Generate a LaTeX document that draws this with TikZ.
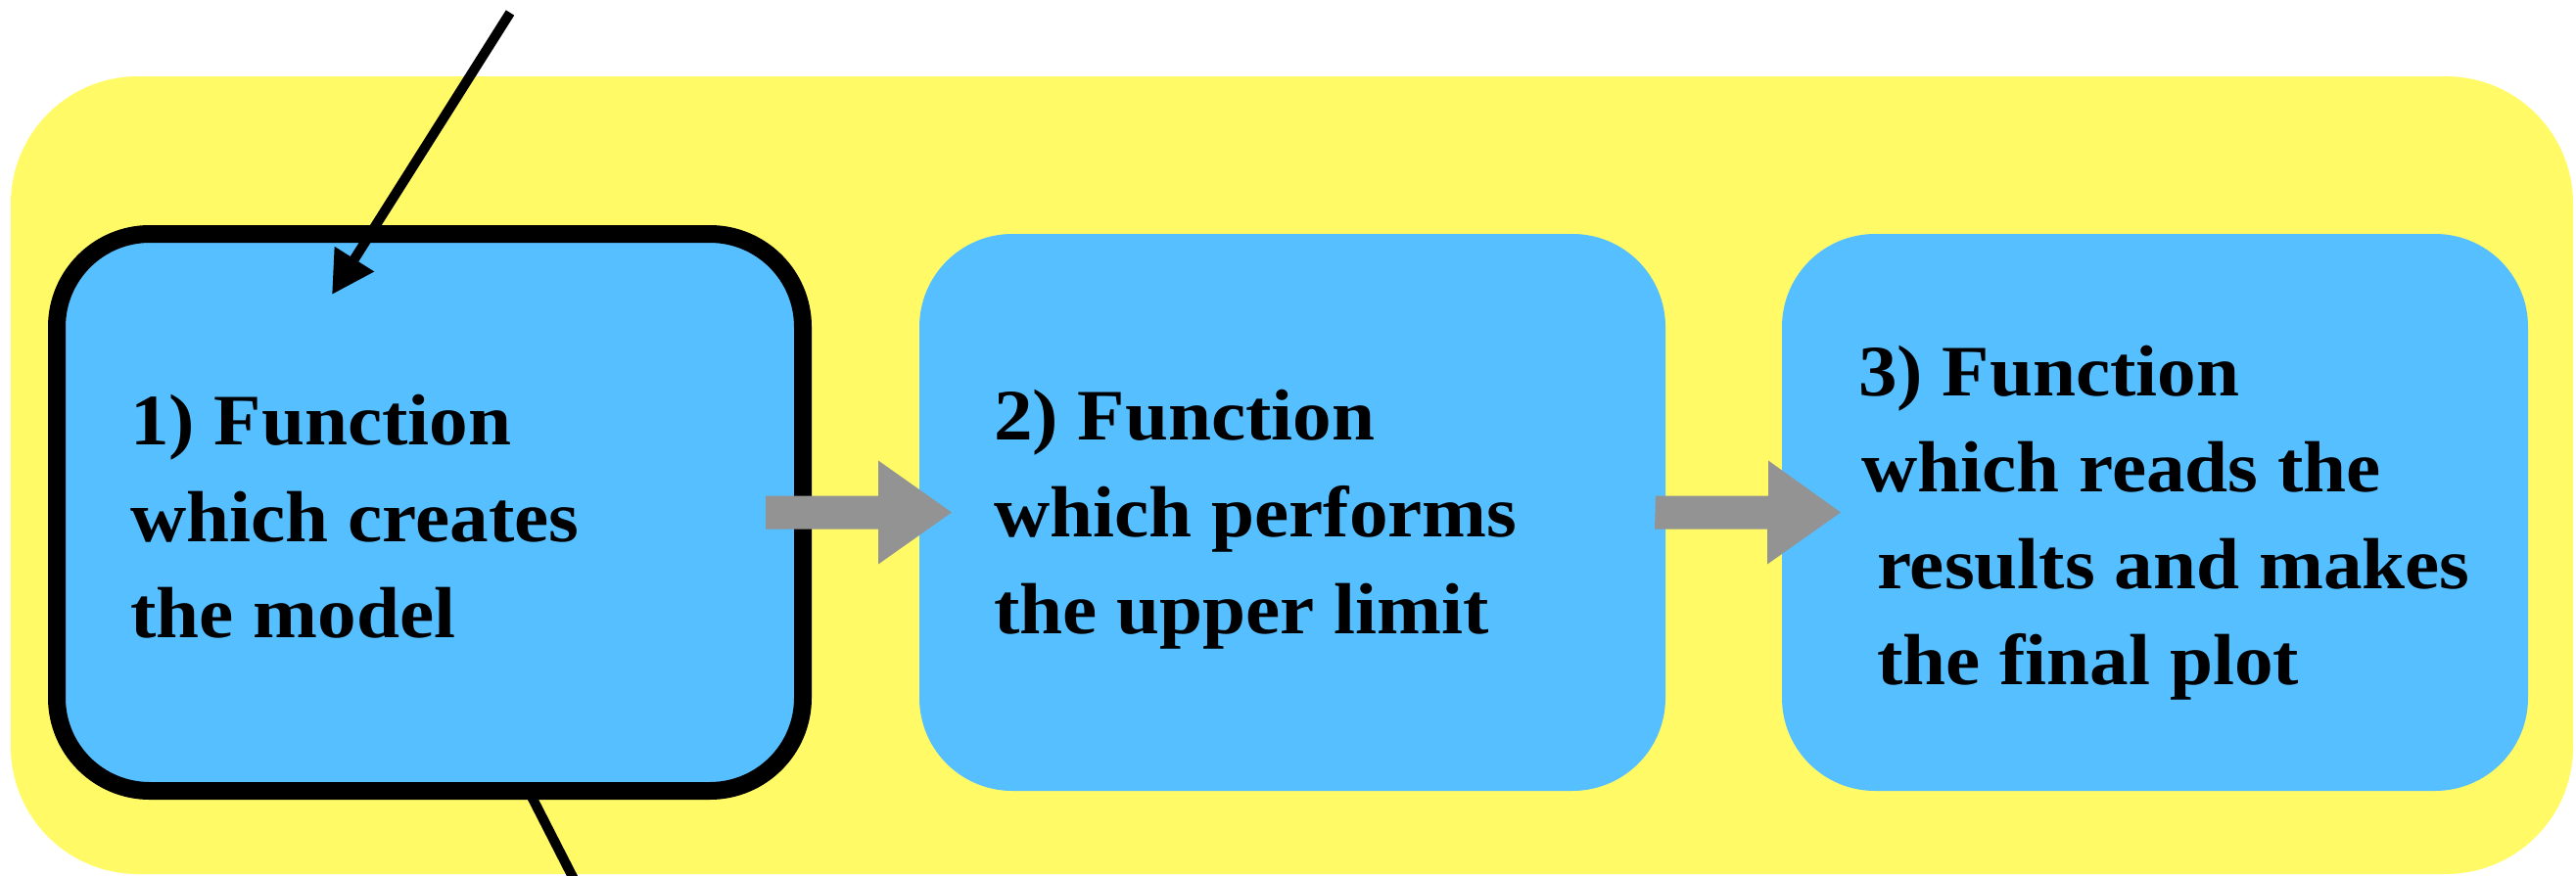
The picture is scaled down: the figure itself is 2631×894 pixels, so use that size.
\documentclass[tikz,border=0pt]{standalone}
\usepackage{fontspec}
\setmainfont{Liberation Serif}[FakeStretch=1.07]
\usetikzlibrary{calc,arrows.meta}
\definecolor{bgyellow}{RGB}{255,250,102}
\definecolor{boxblue}{RGB}{85,191,255}
\definecolor{arrgray}{RGB}{147,147,147}
\begin{document}
\begin{tikzpicture}[x=1pt,y=-1pt,
  panel/.style={rectangle, fill=bgyellow, rounded corners=130pt, inner sep=0pt, outer sep=0pt},
  fnbox/.style={rectangle, fill=boxblue, rounded corners=95pt, minimum width=762pt, minimum height=569pt, inner sep=0pt, outer sep=0pt},
  boldbox/.style={fnbox, draw=black, line width=18pt},
  fnline/.style={anchor=base west, inner sep=0pt, font=\fontsize{74}{86}\selectfont\bfseries},
  blockarrow/.style={fill=arrgray},
  link/.style={line width=10pt, draw=black}
]
\useasboundingbox (0,0) rectangle (2631,894);
\node[panel, minimum width=2617pt, minimum height=815pt] (bg) at (1319.5,485.5) {};

\node[boldbox] (f1) at (439,523.5) {};
\node[fnbox] (f2) at (1320,523.5) {};
\node[fnbox] (f3) at (2201,523.5) {};

% line leaving box 1 downwards
\coordinate (outEnd) at (588,902);
\coordinate (outStart) at ($(f1.south)+(101,0)$);
\draw[link] (outStart) -- (outEnd);

% block arrows
\coordinate (a1s) at ($(f1.east)+(-38,0)$);
\coordinate (a1e) at ($(f2.west)+(33,0)$);
\fill[blockarrow] (a1s) ++(0,-17) -- ++(115,0) -- ++(0,-36) -- (a1e) -- ++(-75,53) -- ++(0,-36) -- ++(-115,0) -- cycle;
\coordinate (a2s) at ($(f2.east)+(-10,0)$);
\coordinate (a2e) at ($(f3.west)+(60,0)$);
\fill[blockarrow] (a2s) ++(0,-17) -- ++(115,0) -- ++(0,-36) -- (a2e) -- ++(-75,53) -- ++(0,-36) -- ++(-115,0) -- cycle;

% incoming arrow
\coordinate (inTop) at (521,13);
\coordinate (inTip) at ($(f1.north west)+(281,62)$);
\draw[link, -{Triangle[length=43pt,width=45pt]}] (inTop) -- (inTip);

% texts
\node[fnline] (t1a) at (133,454) {1) Function};
\node[fnline] (t1b) at (133,553) {which creates};
\node[fnline] (t1c) at (133,651) {the model};
\node[fnline] (t2a) at (1015,449) {2) Function};
\node[fnline] (t2b) at (1015,548) {which performs};
\node[fnline] (t2c) at (1015,647) {the upper limit};
\node[fnline] (t3a) at (1898,404) {3) Function};
\node[fnline] (t3b) at (1901,502) {which reads the};
\node[fnline] (t3c) at (1917,601) {results and makes};
\node[fnline] (t3d) at (1917,699) {the final plot};
\end{tikzpicture}
\end{document}
